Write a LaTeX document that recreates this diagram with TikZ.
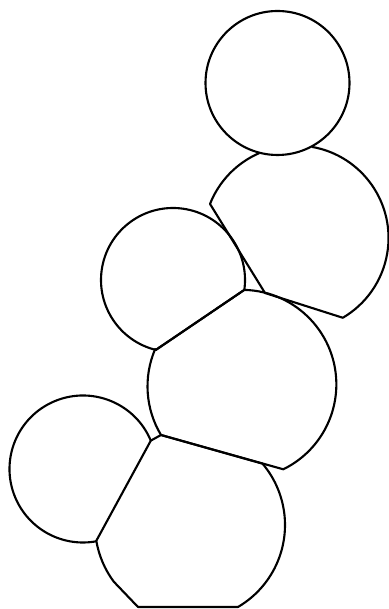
\documentclass[tikz,border=0pt]{standalone}
\usepackage{tikz}
\usetikzlibrary{calc}
\tikzset{cell/.style={draw, line width=0.6pt, line join=round}}

\begin{document}
\begin{tikzpicture}[x=0.1mm, y=0.1mm]
\useasboundingbox (0,0) rectangle (388,609);

% centres
\coordinate (a) at (277.5,526);
\coordinate (b) at (296,371);
\coordinate (c) at (173,329);
\coordinate (d) at (242.5,223);
\coordinate (e) at (83,140);
\coordinate (f) at (190,84);

% corners
\coordinate (bd) at (265,316);
\coordinate (bl) at ($(b)+(158.4:92.5)$);
\coordinate (cd1) at ($(c)+(-7.9:72)$);
\coordinate (cd2) at ($(c)+(256.2:72)$);
\coordinate (def) at (161,174);
\coordinate (ef1) at ($(e)+(22.7:73.5)$);
\coordinate (ef2) at ($(e)+(280.2:73.5)$);
\coordinate (fl) at (138,2);

\draw[cell] (a) circle[radius=72];
\draw[cell] ($(b)+(80:92.5)$) arc[start angle=80, end angle=-59.6, radius=92.5] -- (bd) -- (bl) arc[start angle=158.4, end angle=113.5, radius=92.5];
\draw[cell] (cd1) arc[start angle=-7.9, end angle=256.2, radius=72] -- cycle;
\draw[cell] (cd1) arc[start angle=88.5, end angle=-64, radius=94.5] -- (def) arc[start angle=211, end angle=156.8, radius=94.5] -- (cd2) -- cycle;
\draw[cell] (ef1) arc[start angle=22.7, end angle=280.2, radius=73.5];
\draw[cell] (def) -- ($(f)+(40.2:95)$) arc[start angle=40.2, end angle=-59.7, radius=95] -- (fl) -- ($(f)+(216.6:95)$) arc[start angle=216.6, end angle=189.7, radius=95] -- (ef2) -- (ef1) -- cycle;

\end{tikzpicture}
\end{document}
